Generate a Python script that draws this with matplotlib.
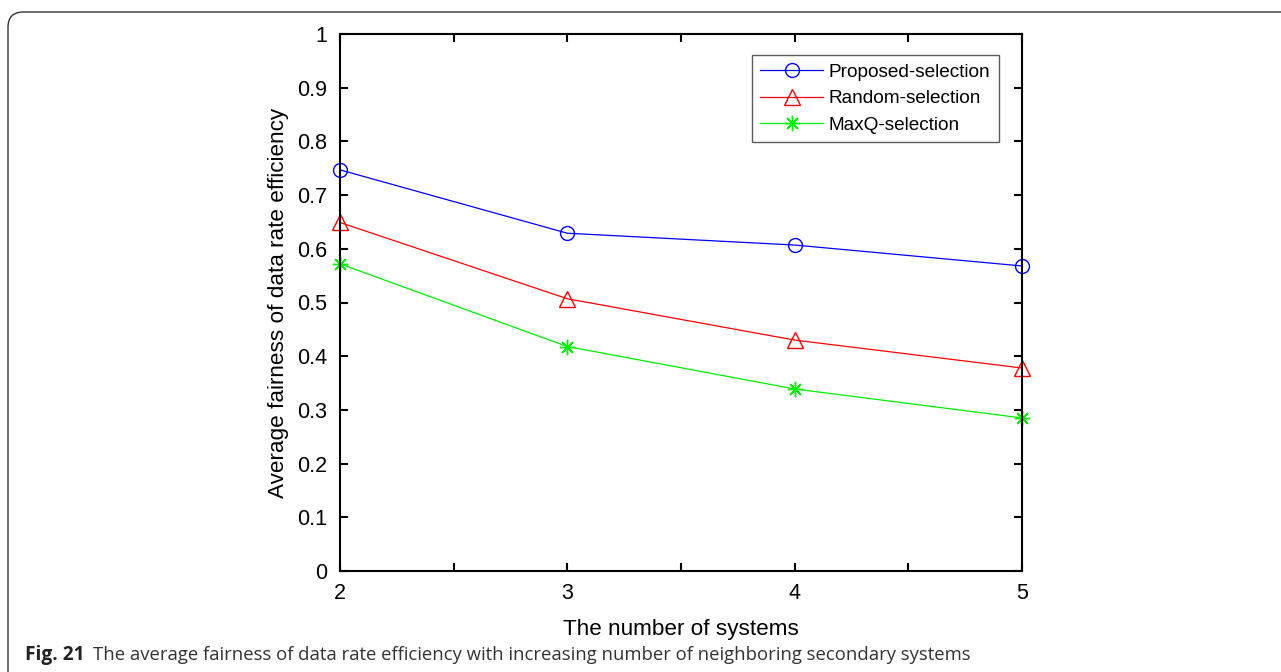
import matplotlib.pyplot as plt
from matplotlib.patches import FancyBboxPatch
from matplotlib.ticker import MultipleLocator

systems = [2, 3, 4, 5]
proposed = [0.747, 0.629, 0.607, 0.568]
random_sel = [0.649, 0.507, 0.430, 0.378]
maxq = [0.572, 0.418, 0.339, 0.285]

yticks = [0, 0.1, 0.2, 0.3, 0.4, 0.5, 0.6, 0.7, 0.8, 0.9, 1]
ytick_labels = ['0', '0.1', '0.2', '0.3', '0.4', '0.5', '0.6', '0.7', '0.8', '0.9', '1']

plt.rcParams['font.family'] = ['Liberation Sans', 'DejaVu Sans']

fig = plt.figure(figsize=(12.81, 6.72), dpi=100)
ax = fig.add_axes([340 / 1281, 1 - 571 / 672, 682 / 1281, 537 / 672])

asterisk = (8, 2, 0)
ax.plot(systems, proposed, color='blue', lw=0.9, marker='o', ms=10,
        mfc='none', mec='blue', mew=1.0, label='Proposed-selection', clip_on=False)
ax.plot(systems, random_sel, color='red', lw=0.9, marker='^', ms=11,
        mfc='none', mec='red', mew=1.0, label='Random-selection', clip_on=False)
ax.plot(systems, maxq, color='#00ee00', lw=0.9, marker=asterisk, ms=11,
        mfc='none', mec='#00ee00', mew=1.0, label='MaxQ-selection', clip_on=False)

ax.set_xlim(2, 5)
ax.set_ylim(0, 1)
ax.set_xticks(systems)
ax.xaxis.set_minor_locator(MultipleLocator(0.5))
ax.set_yticks(yticks)
ax.set_yticklabels(ytick_labels)
ax.tick_params(which='both', direction='in', top=True, right=True,
               width=1.5, labelsize=15.5)
ax.tick_params(which='major', length=6)
ax.tick_params(axis='x', which='major', pad=8.5)
ax.tick_params(axis='y', which='major', pad=9)
ax.tick_params(which='minor', length=6)
for s in ax.spines.values():
    s.set_linewidth(1.5)

ax.set_xlabel('The number of systems', fontsize=16.2, labelpad=11)
ax.set_ylabel('Average fairness of data rate efficiency', fontsize=16.2, labelpad=6)

leg = ax.legend(loc='upper right', bbox_to_anchor=(0.9663, 0.9609), borderaxespad=0,
                fontsize=13.7, frameon=True, fancybox=False, edgecolor='#333333',
                handlelength=3.3, borderpad=0.45, labelspacing=0.48,
                handletextpad=0.3)
leg.get_frame().set_linewidth(1.0)

# rounded frame around the figure, running off the right and bottom edges
frame = FancyBboxPatch((8 / 1281, -0.1), 1.2, 1 - 12 / 672 + 0.1,
                       boxstyle='round,pad=0,rounding_size=0.012',
                       transform=fig.transFigure, fill=False,
                       edgecolor='#333333', lw=1.0, mutation_aspect=1281 / 672)
fig.patches.append(frame)

fig.text(25 / 1281, 1 - 655 / 672, 'Fig. 21', fontsize=13.8, fontweight='bold',
         va='center', ha='left', color='#222222', family='Open Sans')
fig.text(93 / 1281, 1 - 655 / 672,
         'The average fairness of data rate efficiency with increasing number of neighboring secondary systems',
         fontsize=13.3, va='center', ha='left', color='#333333', family='Open Sans')

fig.savefig('out.png', dpi=100)
